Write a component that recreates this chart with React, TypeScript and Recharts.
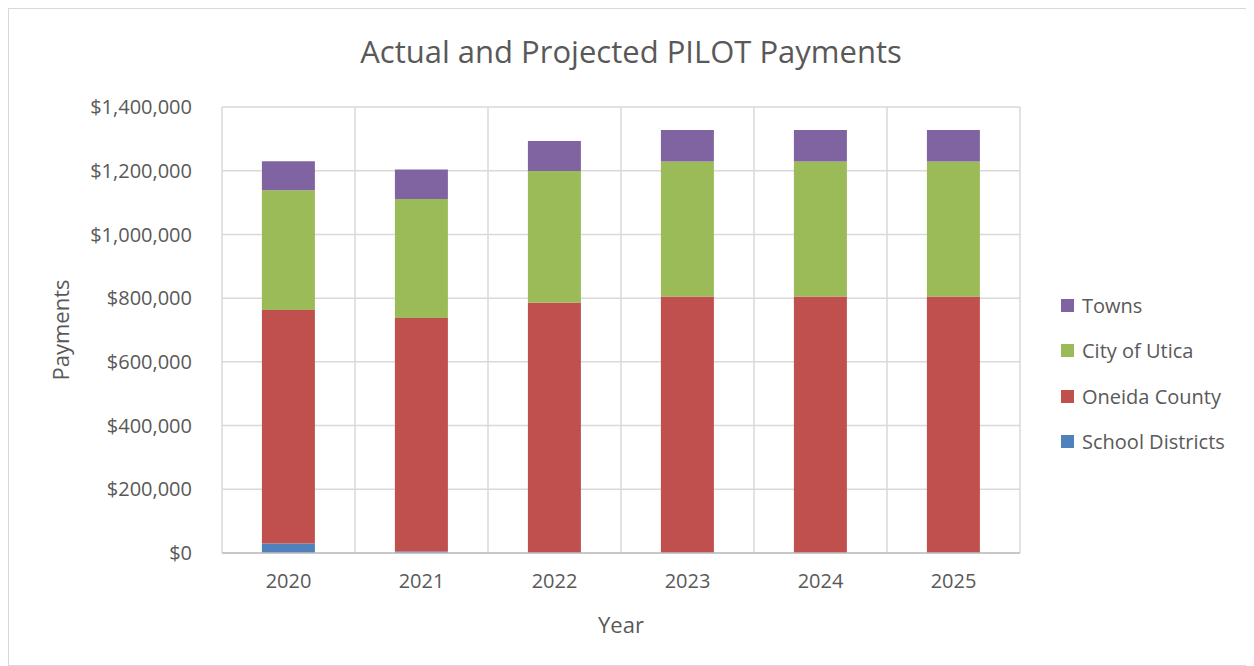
import {
  Bar,
  BarChart,
  CartesianGrid,
  XAxis,
  YAxis,
} from "recharts";

const years = ["2020", "2021", "2022", "2023", "2024", "2025"];
const schoolDistricts = [30000, 5000, 0, 0, 0, 0];
const oneidaCounty = [733000, 733000, 786000, 805000, 805000, 805000];
const cityOfUtica = [376000, 373000, 413000, 424000, 424000, 424000];
const towns = [91000, 93000, 94000, 99000, 99000, 99000];
const yTicks = [0, 200000, 400000, 600000, 800000, 1000000, 1200000, 1400000];

const COLORS = {
  school: "#4f81bd",
  county: "#c0504d",
  city: "#9bbb59",
  towns: "#8064a2",
};

const FONT = "'Open Sans', 'Liberation Sans', sans-serif";
const TEXT = "#595959";

const data = years.map((year, i) => ({
  year,
  school: schoolDistricts[i],
  county: oneidaCounty[i],
  city: cityOfUtica[i],
  towns: towns[i],
}));

const legendItems = [
  { label: "Towns", color: COLORS.towns },
  { label: "City of Utica", color: COLORS.city },
  { label: "Oneida County", color: COLORS.county },
  { label: "School Districts", color: COLORS.school },
];

const fmt = (v: number) => "$" + v.toLocaleString("en-US");

export default function App() {
  return (
    <div
      style={{
        position: "relative",
        width: 1244,
        height: 656,
        border: "1px solid #d9d9d9",
        background: "#fff",
        fontFamily: FONT,
      }}
    >
      <div
        style={{
          position: "absolute",
          top: 21,
          left: 0,
          width: 1244,
          textAlign: "center",
          fontSize: 31,
          color: TEXT,
        }}
      >
        Actual and Projected PILOT Payments
      </div>
      <div
        style={{
          position: "absolute",
          left: 1052,
          top: 274,
          fontSize: 20,
          color: TEXT,
        }}
      >
        {legendItems.map((item) => (
          <div
            key={item.label}
            style={{ display: "flex", alignItems: "center", height: 45.3 }}
          >
            <span
              style={{
                display: "inline-block",
                width: 13,
                height: 13,
                background: item.color,
                marginRight: 8,
              }}
            />
            {item.label}
          </div>
        ))}
      </div>
      <BarChart
        width={1244}
        height={656}
        data={data}
        barCategoryGap="30%"
        margin={{ top: 98, right: 233, left: 0, bottom: 0 }}
      >
        <CartesianGrid
          stroke="#d9d9d9"
          strokeWidth={1.5}
          verticalCoordinatesGenerator={({ offset }: any) =>
            years
              .map((_, i) => offset.left + (i * offset.width) / years.length)
              .concat([offset.left + offset.width])
          }
        />
        <XAxis
          dataKey="year"
          height={112}
          tickLine={false}
          tickSize={0}
          tickMargin={21}
          stroke="#bfbfbf"
          strokeWidth={1.5}
          tick={{ fontSize: 20, fill: TEXT, fontFamily: FONT }}
          label={{
            value: "Year",
            position: "insideBottom",
            offset: 32,
            fill: TEXT,
            fontSize: 22,
            fontFamily: FONT,
          }}
        />
        <YAxis
          width={213}
          domain={[0, 1400000]}
          ticks={yTicks}
          tickFormatter={fmt}
          axisLine={false}
          tickLine={false}
          tickSize={0}
          tickMargin={30}
          tick={{ fontSize: 20, fill: TEXT, fontFamily: FONT }}
          label={{
            value: "Payments",
            angle: -90,
            position: "insideLeft",
            offset: 52,
            fill: TEXT,
            fontSize: 22,
            fontFamily: FONT,
            style: { textAnchor: "middle" },
          }}
        />
        <Bar dataKey="school" name="School Districts" stackId="a" fill={COLORS.school} isAnimationActive={false} />
        <Bar dataKey="county" name="Oneida County" stackId="a" fill={COLORS.county} isAnimationActive={false} />
        <Bar dataKey="city" name="City of Utica" stackId="a" fill={COLORS.city} isAnimationActive={false} />
        <Bar dataKey="towns" name="Towns" stackId="a" fill={COLORS.towns} isAnimationActive={false} />
      </BarChart>
    </div>
  );
}
